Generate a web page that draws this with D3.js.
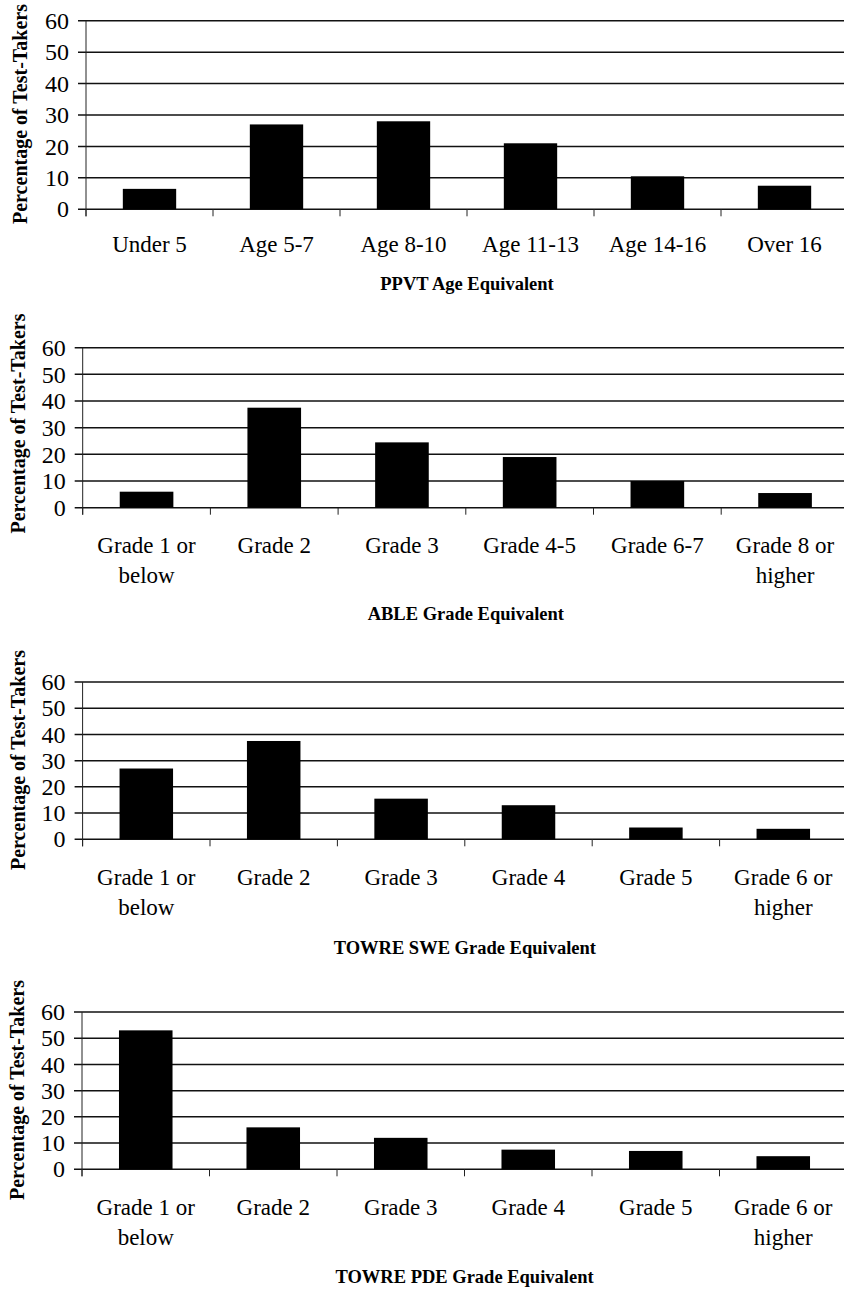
<!DOCTYPE html>
<html>
<head>
<meta charset="utf-8">
<script src="https://cdn.jsdelivr.net/npm/d3@7"></script>
<style>
  html, body { margin: 0; padding: 0; background: #fff; overflow: hidden; }
  svg { display: block; }
</style>
</head>
<body>
<script>
// ---- Data ----
const yTicks = [0, 10, 20, 30, 40, 50, 60];
const yAxisLabel = "Percentage of Test-Takers";

const ppvtTitle = "PPVT Age Equivalent";
const ppvtCategories = ["Under 5", "Age 5-7", "Age 8-10", "Age 11-13", "Age 14-16", "Over 16"];
const ppvtValues = [6.5, 27, 28, 21, 10.5, 7.5];

const ableTitle = "ABLE Grade Equivalent";
const ableCategories = ["Grade 1 or\nbelow", "Grade 2", "Grade 3", "Grade 4-5", "Grade 6-7", "Grade 8 or\nhigher"];
const ableValues = [6, 37.5, 24.5, 19, 10, 5.5];

const sweTitle = "TOWRE SWE Grade Equivalent";
const sweCategories = ["Grade 1 or\nbelow", "Grade 2", "Grade 3", "Grade 4", "Grade 5", "Grade 6 or\nhigher"];
const sweValues = [27, 37.5, 15.5, 13, 4.5, 4];

const pdeTitle = "TOWRE PDE Grade Equivalent";
const pdeCategories = ["Grade 1 or\nbelow", "Grade 2", "Grade 3", "Grade 4", "Grade 5", "Grade 6 or\nhigher"];
const pdeValues = [53, 16, 12, 7.5, 7, 5];

// ---- Layout (per panel) ----
const W = 844, H = 1290;
const layouts = [
  { top: 20.7,  bottom: 209.3,  left: 86,   band: 127,   labelY: 252,  titleY: 290,  ylabX: 27, ylabY: 114 },
  { top: 347.7, bottom: 507.7,  left: 82.7, band: 127.7, labelY: 553,  titleY: 620,  ylabX: 25, ylabY: 423.5 },
  { top: 682,   bottom: 839.3,  left: 82.6, band: 127.4, labelY: 885,  titleY: 954,  ylabX: 25, ylabY: 760 },
  { top: 1012,  bottom: 1169.3, left: 82,   band: 127.5, labelY: 1215, titleY: 1283, ylabX: 24, ylabY: 1090 }
];
const panels = [
  { title: ppvtTitle, categories: ppvtCategories, values: ppvtValues },
  { title: ableTitle, categories: ableCategories, values: ableValues },
  { title: sweTitle,  categories: sweCategories,  values: sweValues },
  { title: pdeTitle,  categories: pdeCategories,  values: pdeValues }
];

const FONT = "'Liberation Serif', 'Times New Roman', Times, serif";
const svg = d3.select("body").append("svg")
  .attr("width", W).attr("height", H)
  .attr("viewBox", `0 0 ${W} ${H}`);

panels.forEach((p, i) => {
  const L = layouts[i];
  const g = svg.append("g");
  const x = d3.scaleBand()
    .domain(p.categories)
    .range([L.left, L.left + L.band * p.categories.length])
    .paddingInner(0).paddingOuter(0);
  const y = d3.scaleLinear().domain([0, 60]).range([L.bottom, L.top]);
  const bw = x.bandwidth();

  // gridlines (with left tick extension)
  g.selectAll("line.grid").data(yTicks).enter().append("line")
    .attr("x1", L.left - 8).attr("x2", W)
    .attr("y1", d => y(d)).attr("y2", d => y(d))
    .attr("stroke", "#111").attr("stroke-width", 1.5);

  // y tick labels
  g.selectAll("text.ytick").data(yTicks).enter().append("text")
    .attr("x", L.left - 17).attr("y", d => y(d))
    .attr("dy", "0.34em")
    .attr("text-anchor", "end")
    .attr("font-family", FONT).attr("font-size", 24)
    .attr("fill", "#000")
    .text(d => d);

  // bars
  g.selectAll("rect.bar").data(p.values).enter().append("rect")
    .attr("x", (d, k) => x(p.categories[k]) + bw * 0.29)
    .attr("width", bw * 0.42)
    .attr("y", d => y(d))
    .attr("height", d => y(0) - y(d))
    .attr("fill", "#000");

  // y axis line
  g.append("line")
    .attr("x1", L.left).attr("x2", L.left)
    .attr("y1", y(60)).attr("y2", y(0) + 7)
    .attr("stroke", "#222").attr("stroke-width", 1);

  // x ticks at band boundaries
  const bounds = p.categories.map(c => x(c)).concat([x.range()[1]]);
  g.selectAll("line.xtick").data(bounds).enter().append("line")
    .attr("x1", d => d).attr("x2", d => d)
    .attr("y1", y(0)).attr("y2", y(0) + 7)
    .attr("stroke", "#222").attr("stroke-width", 1);

  // category labels
  const labels = g.selectAll("text.cat").data(p.categories).enter().append("text")
    .attr("x", d => x(d) + bw / 2)
    .attr("y", L.labelY)
    .attr("text-anchor", "middle")
    .attr("font-family", FONT).attr("font-size", 23)
    .attr("fill", "#000");
  labels.each(function(d) {
    const t = d3.select(this);
    d.split("\n").forEach((line, li) => {
      t.append("tspan")
        .attr("x", x(d) + bw / 2)
        .attr("y", L.labelY + li * 30)
        .text(line);
    });
  });

  // axis title
  g.append("text")
    .attr("x", (x.range()[0] + x.range()[1]) / 2)
    .attr("y", L.titleY)
    .attr("text-anchor", "middle")
    .attr("font-family", FONT).attr("font-weight", "bold").attr("font-size", 18.5)
    .attr("fill", "#000")
    .text(p.title);

  // y axis label
  g.append("text")
    .attr("transform", `translate(${L.ylabX},${L.ylabY}) rotate(-90)`)
    .attr("text-anchor", "middle")
    .attr("font-family", FONT).attr("font-weight", "bold").attr("font-size", 20)
    .attr("fill", "#000")
    .text(yAxisLabel);
});
</script>
</body>
</html>
